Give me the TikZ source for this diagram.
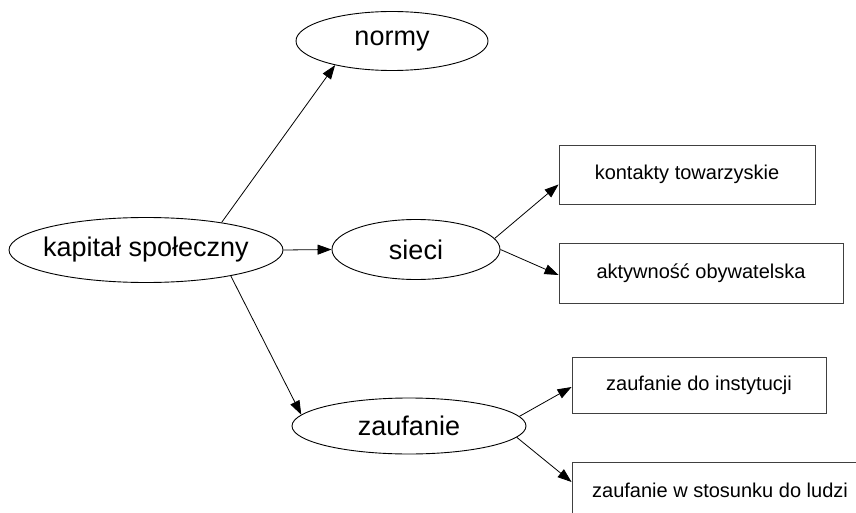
\documentclass[tikz,border=0pt]{standalone}
\usepackage{fontspec}
\setmainfont{Liberation Sans}
\usetikzlibrary{shapes.geometric,arrows.meta,calc}

\tikzset{
  concept/.style={draw=black, line width=0.9pt, ellipse, inner sep=0pt,
    font=\fontsize{27}{30}\selectfont},
  leafbox/.style={draw=black!75, line width=0.9pt, rectangle, inner sep=0pt,
    font=\fontsize{20}{23}\selectfont},
  link/.style={draw=black, line width=0.8pt,
    -{Triangle[length=14pt,width=10pt]}}
}

\begin{document}
\begin{tikzpicture}[x=1pt,y=-1pt]
  \clip (0,0) rectangle (856,513);
  \fill[white] (0,0) rectangle (856,513);

  % central concept and its three dimensions
  \node[concept, inner xsep=-10pt, minimum width=274pt, minimum height=65pt] (kap) at (146,250) {kapitał społeczny};
  \node[concept, minimum width=192pt, minimum height=59pt] (normy) at (392,41) {normy};
  \node[concept, minimum width=168pt, minimum height=60pt] (sieci) at (416,249.5) {sieci};
  \node[concept, minimum width=234pt, minimum height=56pt] (zauf) at (409,426) {zaufanie};

  % indicators
  \node[leafbox, minimum width=256pt, minimum height=59pt] (kont) at (687,174.5) {kontakty towarzyskie};
  \node[leafbox, minimum width=284pt, minimum height=60pt] (akt) at (701,273) {aktywność obywatelska};
  \node[leafbox, minimum width=254pt, minimum height=56pt] (inst) at (699,385) {zaufanie do instytucji};
  \node[leafbox, minimum width=296pt, minimum height=56pt] (ludzi) at (720,490) {zaufanie w stosunku do ludzi};

  % connectors
  \draw[link] (kap.20) -- (normy.203);
  \draw[link] (kap.east) -- (sieci.west);
  \draw[link] (kap.-17.6) -- (zauf.174);
  \draw[link] (sieci.8) -- ($(kont.west)+(0,10)$);
  \draw[link] (sieci.east) -- ($(akt.west)+(0,2)$);
  \draw[link] (zauf.5) -- ($(inst.west)+(0,2)$);
  \draw[link] (zauf.-6) -- ($(ludzi.west)+(0,-8)$);
\end{tikzpicture}
\end{document}
